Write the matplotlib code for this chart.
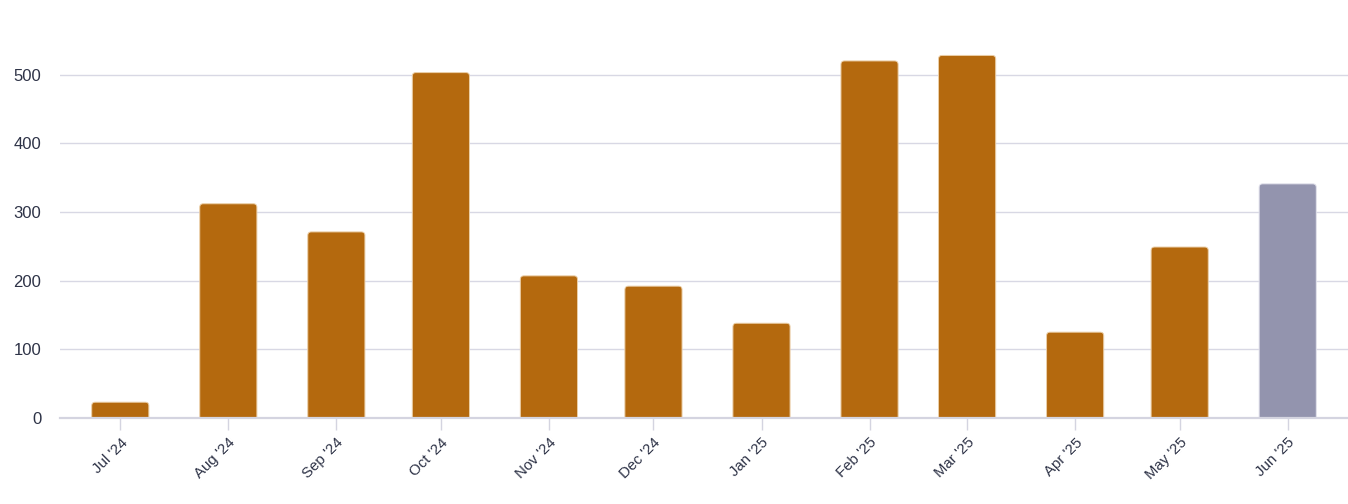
import matplotlib
matplotlib.use('Agg')
import matplotlib.pyplot as plt
import matplotlib.dates as mdates
from matplotlib.patches import FancyBboxPatch
import pandas as pd

months = ['2024-07', '2024-08', '2024-09', '2024-10', '2024-11', '2024-12',
          '2025-01', '2025-02', '2025-03', '2025-04', '2025-05', '2025-06']
values = [23, 312, 271, 503, 207, 192, 138, 520, 528, 125, 249, 341]
bar_colors = ['#B4690E'] * 11 + ['#9394AE']

plt.rcParams['font.family'] = ['Liberation Sans', 'DejaVu Sans']

# bars sit on the 15th of each month
starts = pd.PeriodIndex(months, freq='M').to_timestamp(how='start')
centers = starts + pd.Timedelta(days=14)
x = mdates.date2num(centers.to_pydatetime())

fig = plt.figure(figsize=(13.48, 5.04), dpi=100, facecolor='w')
ax = fig.add_axes([60 / 1348, 86 / 504, 1 - 60 / 1348, 412 / 504])

bars = ax.bar(x, values, width=16.4, color=bar_colors)
ax.set_xlim(x[0] - 17.3, x[-1] + 17.3)
ax.set_ylim(0, 600)

# swap plain rectangles for ones with rounded top corners
p0 = ax.transData.transform((0, 0))
p1 = ax.transData.transform((1, 1))
px_x, px_y = p1[0] - p0[0], p1[1] - p0[1]
r = 3.5 / px_x
aspect = px_x / px_y
for rect in bars.patches:
    rx, ry = rect.get_x(), rect.get_y()
    w, h = rect.get_width(), rect.get_height()
    fc = rect.get_facecolor()
    fb = FancyBboxPatch((rx, ry - 20), w, h + 20,
                        boxstyle='round,pad=0,rounding_size=%f' % r,
                        mutation_aspect=aspect,
                        facecolor=fc,
                        edgecolor='#EBCFA8' if fc[0] > 0.6 else '#E2E2EC',
                        lw=0.7, zorder=2)
    ax.add_patch(fb)
    rect.remove()

ax.set_yticks([0, 100, 200, 300, 400, 500])
ax.set_xticks(x)
ax.xaxis.set_major_formatter(mdates.DateFormatter("%b '%y"))

ax.grid(axis='y', color='#D8D8E4', lw=1)
ax.set_axisbelow(True)
for spine in ('top', 'right', 'left'):
    ax.spines[spine].set_visible(False)
ax.spines['bottom'].set_color('#D4D4E0')
ax.spines['bottom'].set_linewidth(1.6)
ax.spines['bottom'].set_zorder(3)

ax.tick_params(axis='y', length=0, pad=13.5, labelsize=12, labelcolor='#2E3347')
ax.tick_params(axis='x', length=8.5, width=1, color='#D4D4E0', pad=4,
               labelsize=10.8, labelcolor='#2E3347')
for lab in ax.get_xticklabels():
    lab.set_rotation(45)
    lab.set_ha('right')
    lab.set_rotation_mode('anchor')

fig.savefig('out.png', dpi=100)
